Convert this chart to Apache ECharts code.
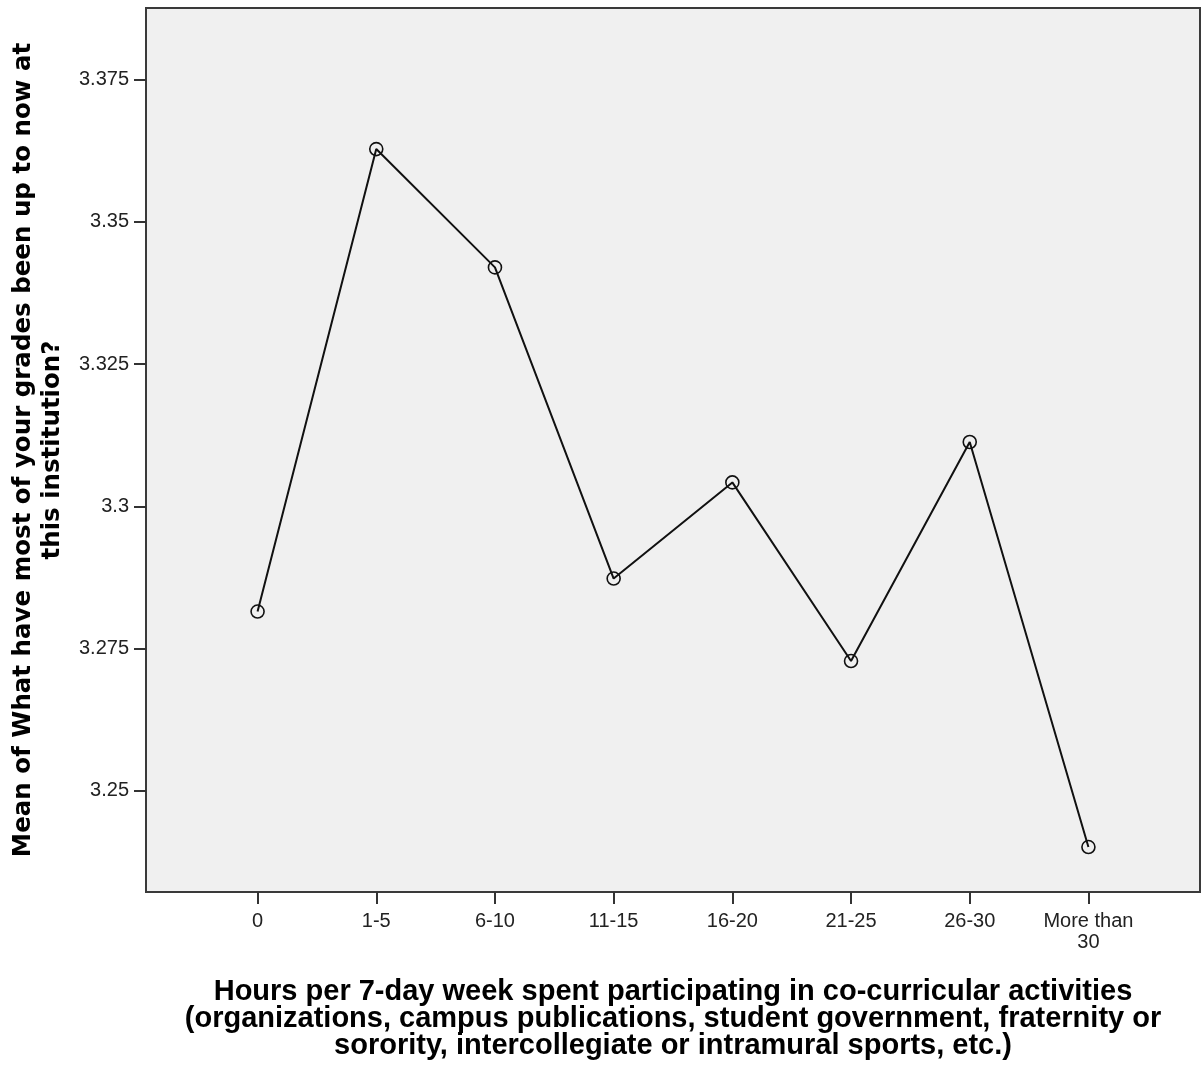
<!DOCTYPE html>
<html>
<head>
<meta charset="utf-8">
<script src="https://cdn.jsdelivr.net/npm/echarts@6/dist/echarts.min.js"></script>
<style>html,body{margin:0;padding:0;background:#fff;}#c{width:1202px;height:1065px;}</style>
</head>
<body>
<div id="c"></div>
<script>
const categories = ['0', '1-5', '6-10', '11-15', '16-20', '21-25', '26-30', 'More than\n30'];
const meanGrades = [3.2815, 3.3628, 3.3420, 3.2873, 3.3042, 3.2728, 3.3113, 3.2401];
const yTicks = [3.25, 3.275, 3.3, 3.325, 3.35, 3.375];
const xTitle = 'Hours per 7-day week spent participating in co-curricular activities\n(organizations, campus publications, student government, fraternity or\nsorority, intercollegiate or intramural sports, etc.)';
const yTitle = 'Mean of What have most of your grades been up to now at\nthis institution?';

const xIdx = categories.map((_, i) => i);
const seriesData = meanGrades.map((v, i) => [i, v]);

const chart = echarts.init(document.getElementById('c'), null, {renderer: 'canvas'});
chart.setOption({
  animation: false,
  backgroundColor: '#ffffff',
  grid: {
    left: 146, top: 8, right: 2, bottom: 172,
    show: true, backgroundColor: '#f0f0f0', borderColor: '#3a3a3a', borderWidth: 2,
    containLabel: false
  },
  xAxis: {
    type: 'value',
    min: -0.94, max: 7.94,
    splitLine: {show: false},
    axisLine: {show: true, onZero: false, lineStyle: {color: '#3a3a3a', width: 2}},
    axisTick: {show: true, customValues: xIdx, length: 12, lineStyle: {color: '#333', width: 2}},
    axisLabel: {
      customValues: xIdx,
      formatter: v => categories[Math.round(v)] || '',
      fontFamily: 'Liberation Sans, Arial, sans-serif', fontSize: 20, color: '#222',
      lineHeight: 21, margin: 19
    },
    name: xTitle,
    nameLocation: 'middle',
    nameGap: 86,
    nameTextStyle: {
      fontFamily: 'Liberation Sans, Arial, sans-serif', fontWeight: 'bold', fontSize: 29,
      color: '#000', lineHeight: 27, align: 'center'
    }
  },
  yAxis: {
    type: 'value',
    min: 3.2322, max: 3.3876,
    splitLine: {show: false},
    axisLine: {show: true, onZero: false, lineStyle: {color: '#3a3a3a', width: 2}},
    axisTick: {show: true, customValues: yTicks, length: 12, lineStyle: {color: '#333', width: 2}},
    axisLabel: {
      customValues: yTicks,
      formatter: v => String(+v.toFixed(3)),
      fontFamily: 'Liberation Sans, Arial, sans-serif', fontSize: 20, color: '#222', margin: 17
    },
    name: yTitle,
    nameLocation: 'middle',
    nameGap: 79,
    nameTextStyle: {
      fontFamily: 'DejaVu Sans, Verdana, sans-serif', fontWeight: 'bold', fontSize: 24.5,
      color: '#000', lineHeight: 29, align: 'center'
    }
  },
  series: [{
    type: 'line',
    data: seriesData,
    symbol: 'circle',
    symbolSize: 13,
    lineStyle: {color: '#111', width: 2},
    itemStyle: {color: 'rgba(0,0,0,0)', borderColor: '#111', borderWidth: 1.6},
    z: 3
  }]
});
</script>
</body>
</html>
